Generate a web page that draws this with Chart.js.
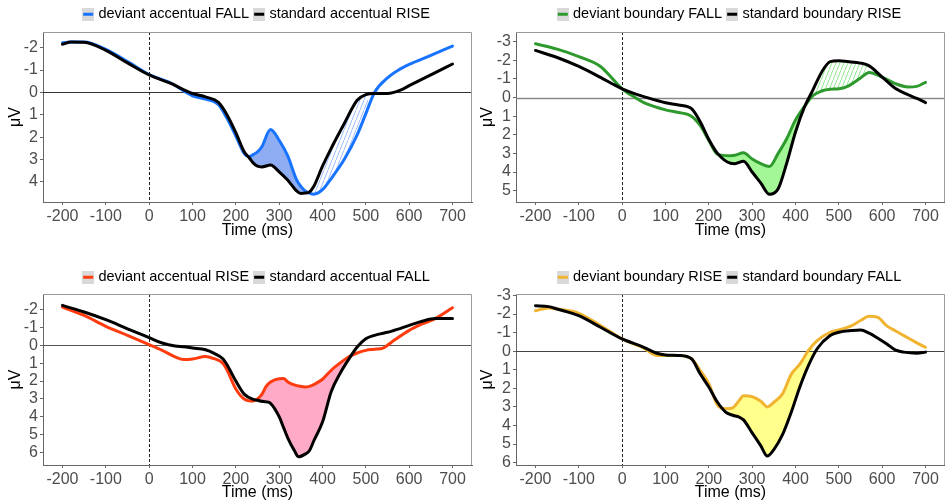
<!DOCTYPE html>
<html><head><meta charset="utf-8">
<script src="https://cdn.jsdelivr.net/npm/chart.js@4.4.0/dist/chart.umd.min.js"></script>
<style>
html,body{margin:0;padding:0;background:#fff;}
#wrap{position:relative;width:945px;height:503px;overflow:hidden;background:#fff;}
canvas{position:absolute;}
</style></head><body>
<div id="wrap">
<canvas id="c1" width="473" height="250" style="left:0;top:0"></canvas>
<canvas id="c2" width="472" height="250" style="left:473px;top:0"></canvas>
<canvas id="c3" width="473" height="253" style="left:0;top:250px"></canvas>
<canvas id="c4" width="472" height="253" style="left:473px;top:250px"></canvas>
</div>
<script>
// ---------- data ----------
const xTicks = [-200,-100,0,100,200,300,400,500,600,700];

// Panel 1: accentual, deviant FALL vs standard RISE
const p1Labels = ['deviant accentual FALL','standard accentual RISE'];
const p1Yticks = [-2,-1,0,1,2,3,4];
const p1Time = [-200,-180,-150,-100,-50,0,50,100,130,160,180,200,220,230,240,250,260,280,300,320,340,350,360,370,380,400,420,450,480,500,520,550,580,600,650,700];
const p1Deviant = [-2.22,-2.25,-2.25,-1.92,-1.38,-0.8,-0.42,0.15,0.3,0.55,1.17,1.95,2.75,2.88,2.78,2.66,2.43,1.66,2.14,2.85,3.9,4.2,4.4,4.5,4.55,4.35,3.85,3.0,1.9,0.95,0.0,-0.65,-1.05,-1.25,-1.65,-2.07];
const p1Standard = [-2.15,-2.25,-2.24,-1.88,-1.32,-0.78,-0.4,0.05,0.2,0.45,1.02,1.8,2.68,2.9,3.15,3.3,3.33,3.25,3.55,3.93,4.4,4.52,4.5,4.45,4.2,3.3,2.5,1.4,0.35,0.1,0.05,0.05,-0.1,-0.3,-0.78,-1.27];

// Panel 2: boundary, deviant FALL vs standard RISE
const p2Labels = ['deviant boundary FALL','standard boundary RISE'];
const p2Yticks = [-3,-2,-1,0,1,2,3,4,5];
const p2Time = [-200,-150,-100,-50,-20,0,30,50,100,130,160,180,200,220,250,260,280,300,320,340,360,380,400,420,440,460,480,500,520,550,570,600,630,660,680,700];
const p2Deviant = [-2.89,-2.6,-2.2,-1.67,-0.95,-0.47,0.0,0.27,0.66,0.8,1.0,1.5,2.3,3.05,3.12,3.1,2.96,3.3,3.55,3.7,3.0,2.2,1.2,0.5,-0.1,-0.35,-0.45,-0.47,-0.6,-1.05,-1.35,-1.1,-0.75,-0.57,-0.6,-0.82];
const p2Standard = [-2.53,-2.15,-1.67,-1.08,-0.7,-0.47,-0.2,-0.05,0.28,0.4,0.6,1.3,2.25,3.0,3.53,3.55,3.42,4.0,4.6,5.2,4.9,3.5,1.85,0.55,-0.4,-1.35,-1.93,-1.97,-1.93,-1.85,-1.7,-1.1,-0.5,-0.15,0.05,0.27];

// Panel 3: accentual, deviant RISE vs standard FALL
const p3Labels = ['deviant accentual RISE','standard accentual FALL'];
const p3Yticks = [-2,-1,0,1,2,3,4,5,6];
const p3Time = [-200,-150,-100,-50,0,30,60,80,100,130,150,170,180,200,220,240,250,260,270,280,300,310,320,335,345,360,370,380,400,420,440,460,480,500,520,540,560,600,630,660,700];
const p3Deviant = [-2.15,-1.68,-1.07,-0.56,-0.04,0.28,0.65,0.8,0.77,0.62,0.75,1.0,1.4,2.45,3.02,3.12,3.0,2.75,2.3,2.05,1.87,1.86,2.05,2.22,2.28,2.34,2.3,2.2,1.9,1.4,1.0,0.65,0.43,0.28,0.22,0.15,-0.19,-0.84,-1.2,-1.5,-2.11];
const p3Standard = [-2.24,-1.87,-1.44,-0.93,-0.43,-0.13,0.04,0.08,0.15,0.25,0.45,0.75,1.1,2.0,2.75,3.03,3.08,3.14,3.17,3.25,4.0,4.6,5.2,5.9,6.25,6.1,5.9,5.35,4.3,2.6,1.6,0.8,0.09,-0.37,-0.56,-0.68,-0.8,-1.12,-1.35,-1.5,-1.5];

// Panel 4: boundary, deviant RISE vs standard FALL
const p4Labels = ['deviant boundary RISE','standard boundary FALL'];
const p4Yticks = [-3,-2,-1,0,1,2,3,4,5,6];
const p4Time = [-200,-170,-150,-100,-50,0,50,80,100,130,160,180,200,220,240,255,270,280,300,320,335,350,370,390,410,430,450,480,500,530,550,570,590,610,630,650,680,700];
const p4Deviant = [-2.18,-2.33,-2.27,-2.04,-1.38,-0.66,-0.16,0.23,0.23,0.23,0.41,1.04,1.75,2.9,3.1,3.05,2.65,2.4,2.45,2.7,3.0,2.75,2.3,1.25,0.7,-0.04,-0.57,-1.02,-1.14,-1.38,-1.65,-1.88,-1.82,-1.38,-1.1,-0.84,-0.45,-0.21];
const p4Standard = [-2.45,-2.4,-2.27,-1.91,-1.29,-0.66,-0.21,0.11,0.2,0.23,0.41,1.22,1.93,2.75,3.3,3.45,3.55,3.7,4.4,5.1,5.65,5.3,4.5,3.3,1.93,0.77,-0.13,-0.84,-1.02,-1.11,-1.14,-0.97,-0.7,-0.4,-0.07,0.05,0.11,0.05];

// ---------- rendering ----------
Chart.defaults.font.family = "'Liberation Sans', Arial, Helvetica, sans-serif";
Chart.defaults.animation = false;

function legendImg(color){
  const c = document.createElement('canvas'); c.width = 12; c.height = 13;
  const g = c.getContext('2d');
  g.fillStyle = '#d9d9d9'; g.fillRect(0,0,12,13);
  g.fillStyle = color; g.fillRect(1,5,10,3);
  return c;
}
function hatchPattern(ctx, color){
  const t = document.createElement('canvas'); t.width = 4; t.height = 10;
  const g = t.getContext('2d');
  g.strokeStyle = color; g.lineWidth = 1;
  g.beginPath(); g.moveTo(0,10); g.lineTo(4,0); g.stroke();
  return ctx.createPattern(t, 'repeat');
}
function pts(t, v){ return t.map((x,i)=>({x:x, y:v[i]})); }

function makeChart(cfg){
  const el = document.getElementById(cfg.id);
  const legendFix = {
    id: 'legendFix',
    beforeInit(chart){
      const lg = chart.legend; const orig = lg.fit;
      lg.fit = function(){ orig.call(this); this.height = cfg.legendH; };
    }
  };
  const decor = {
    id: 'decor',
    beforeDatasetsDraw(chart){
      const {ctx, chartArea: a, scales: {x, y}} = chart;
      // between-curve fills
      const lines = [chart.getDatasetMeta(0).dataset, chart.getDatasetMeta(1).dataset];
      cfg.windows.forEach(w => {
        ctx.save();
        const x0 = x.getPixelForValue(w.from), x1 = x.getPixelForValue(w.to);
        ctx.beginPath(); ctx.rect(x0, a.top, x1 - x0, a.bottom - a.top); ctx.clip();
        ctx.beginPath();
        lines.forEach(l => {
          const p = l.points;
          l.path(ctx);
          ctx.lineTo(p[p.length-1].x, a.bottom + 200);
          ctx.lineTo(p[0].x, a.bottom + 200);
          ctx.closePath();
        });
        ctx.fillStyle = w.hatch ? hatchPattern(ctx, w.color) : w.color;
        ctx.fill('evenodd');
        ctx.restore();
      });
      // zero lines
      ctx.save();
      const y0 = Math.round(y.getPixelForValue(0)) + 0.5;
      ctx.strokeStyle = cfg.zeroColor; ctx.lineWidth = cfg.zeroWidth;
      ctx.beginPath(); ctx.moveTo(a.left, y0); ctx.lineTo(a.right, y0); ctx.stroke();
      const x0p = Math.round(x.getPixelForValue(0)) + 0.5;
      ctx.strokeStyle = '#222'; ctx.lineWidth = 1; ctx.setLineDash([3,2]);
      ctx.beginPath(); ctx.moveTo(x0p, a.top); ctx.lineTo(x0p, a.bottom); ctx.stroke();
      ctx.restore();
    },
    afterDraw(chart){
      const {ctx, chartArea: a} = chart;
      ctx.save();
      ctx.strokeStyle = '#9a9a9a'; ctx.lineWidth = 1;
      ctx.beginPath();
      ctx.moveTo(a.left, a.top + 0.5); ctx.lineTo(a.right - 0.5, a.top + 0.5); ctx.lineTo(a.right - 0.5, a.bottom);
      ctx.stroke();
      ctx.restore();
    }
  };
  return new Chart(el, {
    type: 'line',
    data: {
      datasets: [
        { label: cfg.labels[1], data: pts(cfg.time, cfg.standard), borderColor: '#000', borderWidth: 3,
          pointRadius: 0, cubicInterpolationMode: 'monotone', fill: false, borderCapStyle: 'round', borderJoinStyle: 'round' },
        { label: cfg.labels[0], data: pts(cfg.time, cfg.deviant), borderColor: cfg.color, borderWidth: 3,
          pointRadius: 0, cubicInterpolationMode: 'monotone', fill: false, borderCapStyle: 'round', borderJoinStyle: 'round' }
      ]
    },
    options: {
      responsive: false,
      animation: false,
      layout: { autoPadding: false, padding: { top: cfg.padTop, right: cfg.padRight, left: 0, bottom: 0 } },
      plugins: {
        tooltip: { enabled: false },
        legend: {
          display: true, position: 'top', align: 'center', fullSize: false,
          labels: {
            usePointStyle: true, pointStyleWidth: 6, boxHeight: 12, padding: 7,
            color: '#000', font: { size: 14.5 },
            generateLabels: () => [
              { text: cfg.labels[0], pointStyle: legendImg(cfg.color), fillStyle: cfg.color, strokeStyle: cfg.color, lineWidth: 0, hidden: false, datasetIndex: 1, fontColor: '#000' },
              { text: cfg.labels[1], pointStyle: legendImg('#000'), fillStyle: '#000', strokeStyle: '#000', lineWidth: 0, hidden: false, datasetIndex: 0, fontColor: '#000' }
            ]
          }
        }
      },
      scales: {
        x: {
          type: 'linear', min: -245, max: 745,
          afterBuildTicks: s => { s.ticks = xTicks.map(v => ({value: v})); },
          afterFit: s => { s.height = cfg.xH; },
          ticks: { color: '#4d4d4d', font: { size: 16 }, padding: 2, maxRotation: 0, autoSkip: false },
          grid: { drawOnChartArea: false, drawTicks: true, tickLength: 3, tickColor: '#666', color: '#666' },
          border: { display: true, color: '#666', width: 1 },
          title: { display: true, text: 'Time (ms)', color: '#000', font: { size: 16 }, padding: { top: 0, bottom: cfg.xTitlePad } }
        },
        y: {
          type: 'linear', reverse: true, min: cfg.ymin, max: cfg.ymax,
          afterBuildTicks: s => { s.ticks = cfg.yticks.map(v => ({value: v})); },
          afterFit: s => { s.width = 43; },
          ticks: { color: '#4d4d4d', font: { size: 16 }, padding: 2, autoSkip: false, callback: v => String(v) },
          grid: { drawOnChartArea: false, drawTicks: true, tickLength: 3, tickColor: '#666', color: '#666' },
          border: { display: true, color: '#666', width: 1 },
          title: { display: true, text: 'μV', color: '#000', font: { size: 16 }, padding: { top: cfg.yTitlePad, bottom: 0 } }
        }
      }
    },
    plugins: [legendFix, decor]
  });
}

makeChart({ id: 'c1', labels: p1Labels, time: p1Time, deviant: p1Deviant, standard: p1Standard, yticks: p1Yticks,
  color: '#1874ff', ymin: -2.7, ymax: 4.9, padTop: 0, padRight: 1, legendH: 32, xH: 48, xTitlePad: 10, yTitlePad: 6,
  zeroColor: '#333', zeroWidth: 1,
  windows: [ {from: 229, to: 369, color: '#8fadf3'}, {from: 369, to: 505, color: '#9dbcff', hatch: true} ] });

makeChart({ id: 'c2', labels: p2Labels, time: p2Time, deviant: p2Deviant, standard: p2Standard, yticks: p2Yticks,
  color: '#2e9a2e', ymin: -3.52, ymax: 5.61, padTop: 0, padRight: 0, legendH: 32, xH: 48, xTitlePad: 10, yTitlePad: 5,
  zeroColor: '#8a8a8a', zeroWidth: 1.5,
  windows: [ {from: 216, to: 433, color: '#a3f797'}, {from: 440, to: 565, color: '#8ee88e', hatch: true} ] });

makeChart({ id: 'c3', labels: p3Labels, time: p3Time, deviant: p3Deviant, standard: p3Standard, yticks: p3Yticks,
  color: '#ff3c0f', ymin: -2.88, ymax: 6.71, padTop: 13, padRight: 1, legendH: 31, xH: 38, xTitlePad: 1, yTitlePad: 6,
  zeroColor: '#555', zeroWidth: 1,
  windows: [ {from: 250, to: 457, color: '#ffabc7'} ] });

makeChart({ id: 'c4', labels: p4Labels, time: p4Time, deviant: p4Deviant, standard: p4Standard, yticks: p4Yticks,
  color: '#f0b430', ymin: -3.08, ymax: 6.13, padTop: 13, padRight: 0, legendH: 31, xH: 38, xTitlePad: 1, yTitlePad: 5,
  zeroColor: '#444', zeroWidth: 1,
  windows: [ {from: 245, to: 440, color: '#ffff8c'} ] });
</script>
</body></html>
